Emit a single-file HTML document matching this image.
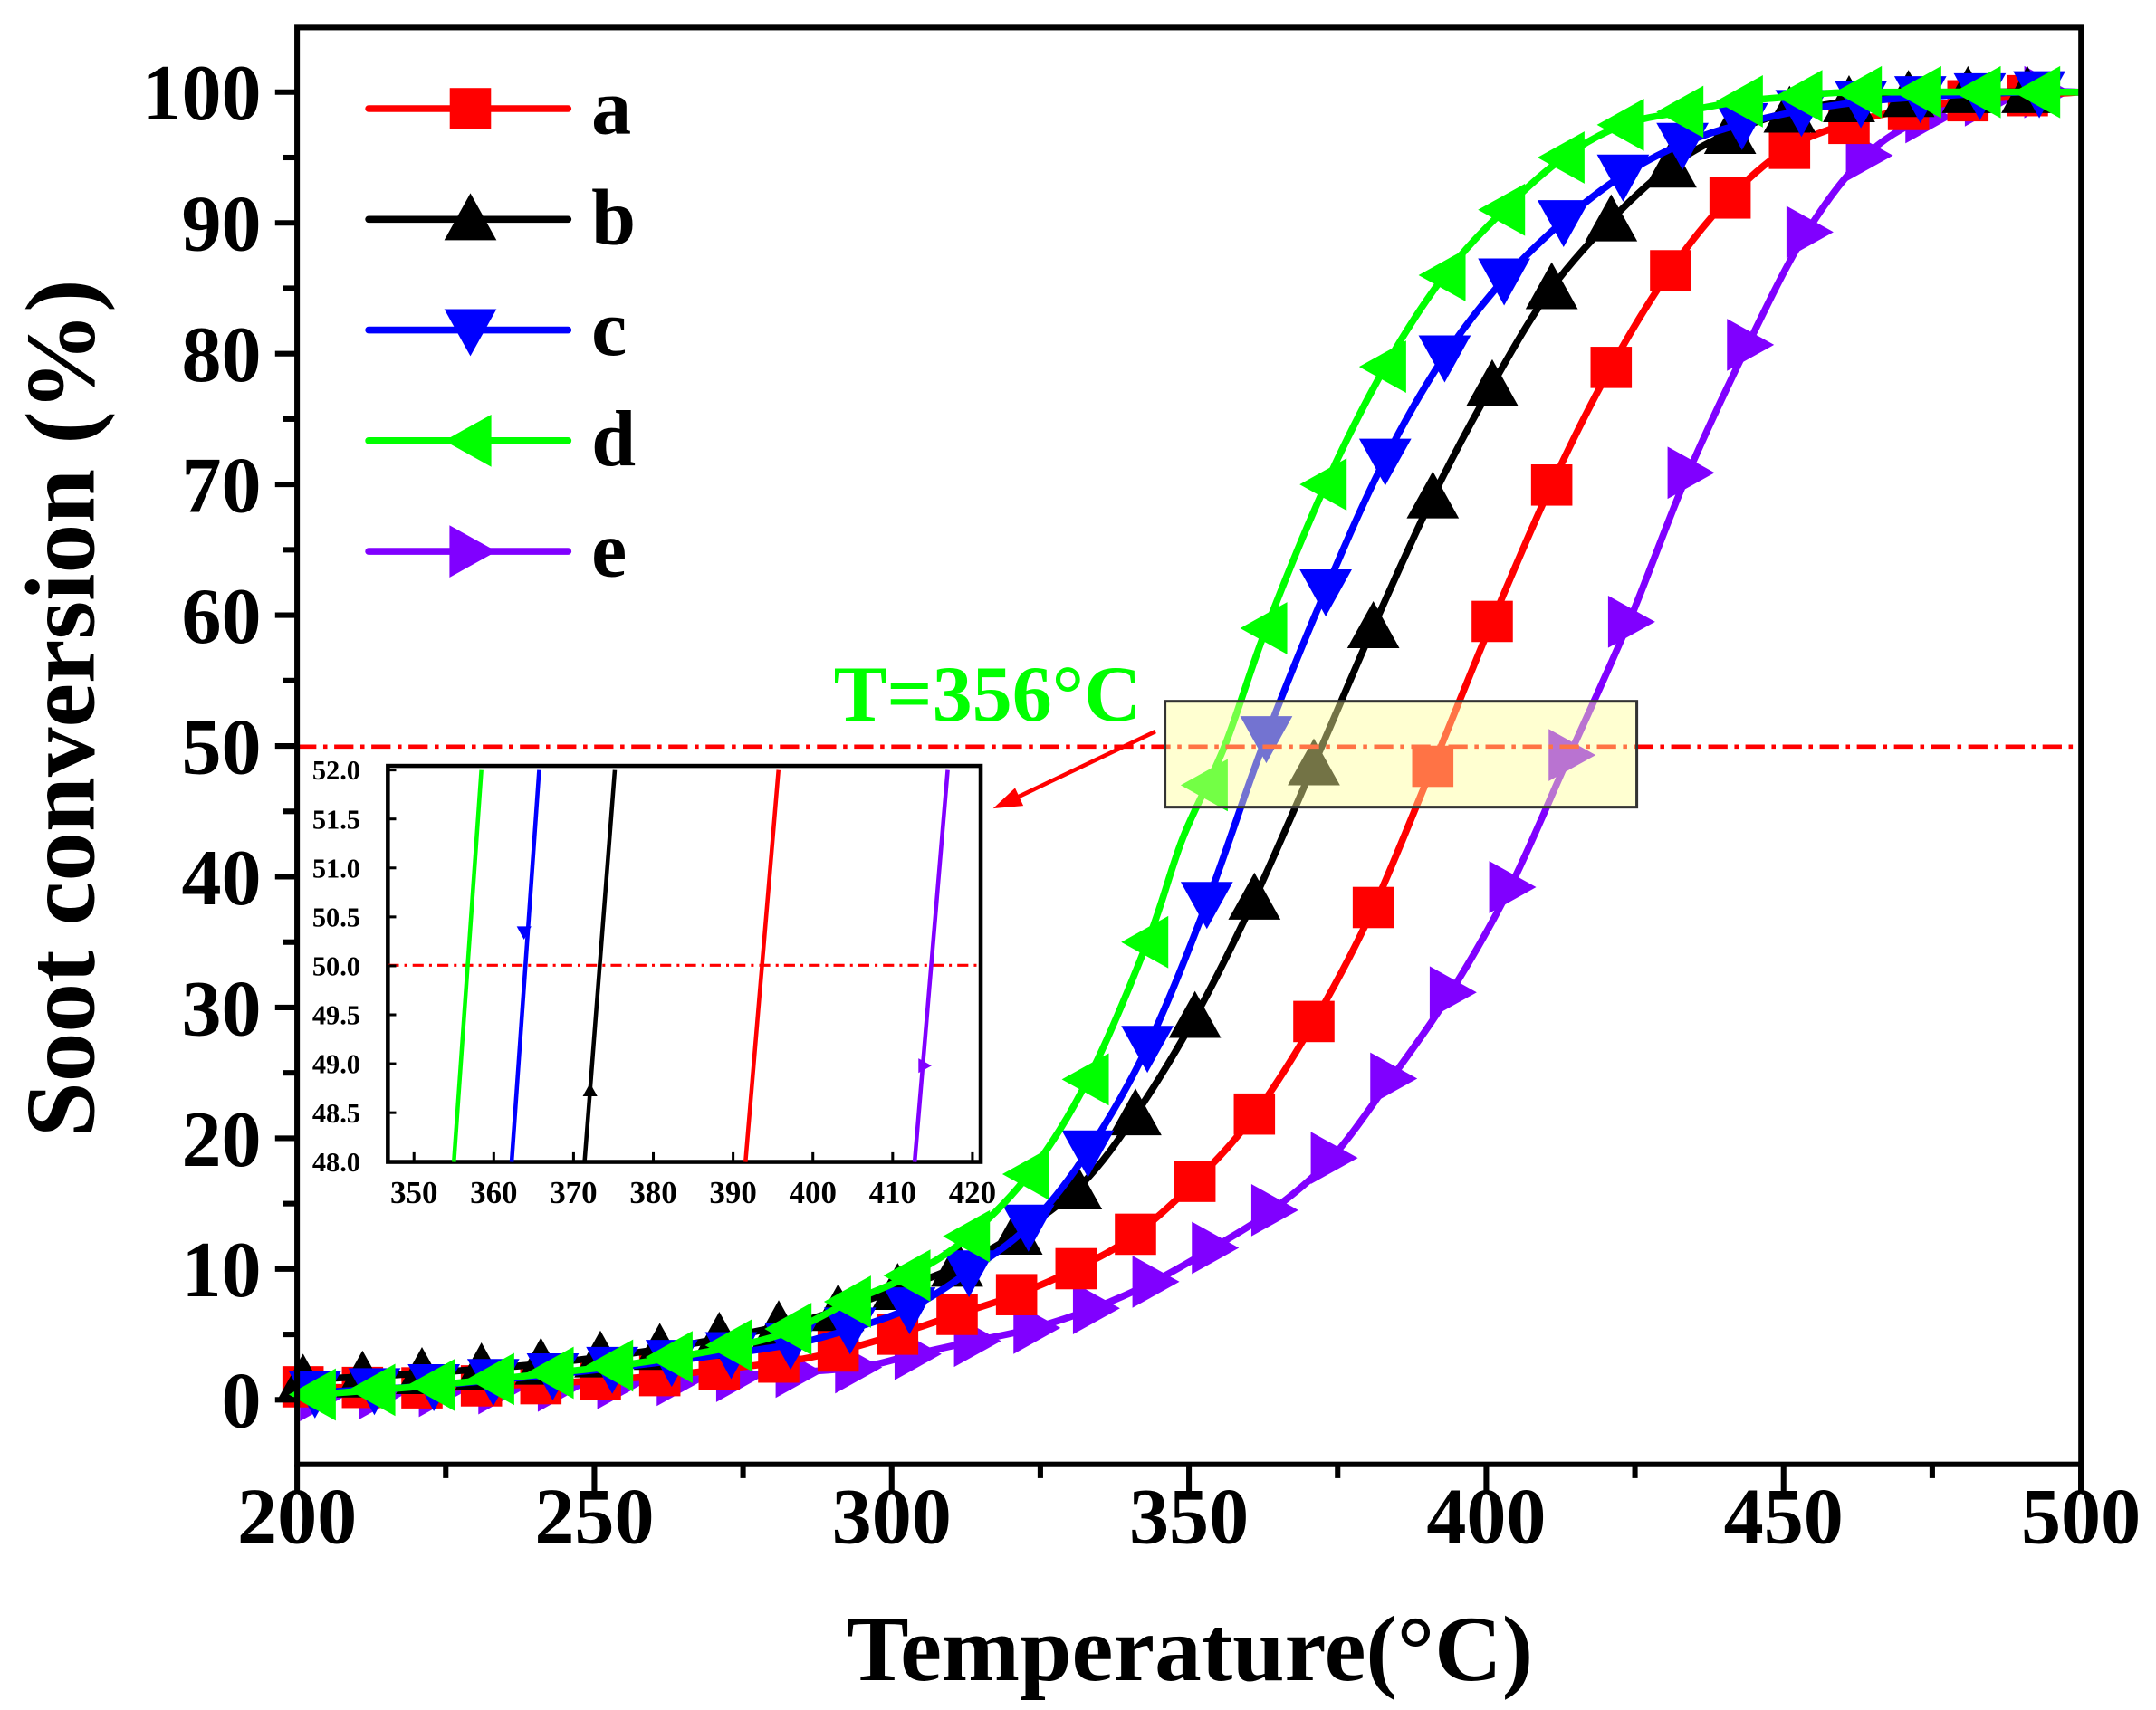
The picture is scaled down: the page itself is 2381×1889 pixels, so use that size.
<!DOCTYPE html>
<html><head><meta charset="utf-8"><style>html,body{margin:0;padding:0;background:#fff}svg{display:block}</style></head>
<body>
<svg id="s" width="2381" height="1889" viewBox="0 0 1567.5 1243.6" preserveAspectRatio="none" xmlns="http://www.w3.org/2000/svg" font-family="Liberation Serif, serif">
<rect x="0" y="0" width="1567.5" height="1243.6" fill="#fff"/>
<g id="plot"></g>
<g id="inset"></g>
<rect x="216" y="20" width="1297" height="1045" fill="none" stroke="#000" stroke-width="4"/>
<g id="ticks" stroke="#000" stroke-width="4"></g>
<g id="labels" font-weight="bold" font-size="58" fill="#000"></g>
<text x="865" y="1222" text-anchor="middle" font-weight="bold" font-size="68">Temperature(°C)</text>
<text transform="translate(68,515) rotate(-90)" text-anchor="middle" font-weight="bold" font-size="72">Soot conversion (%)</text>
<text x="718" y="524" text-anchor="middle" font-weight="bold" font-size="58" fill="#00ff00">T=356°C</text>
<g id="legend"></g>
</svg>
<script>
const NS="http://www.w3.org/2000/svg";
function el(p,t,a,txt){const e=document.createElementNS(NS,t);for(const k in a)e.setAttribute(k,a[k]);if(txt!==undefined)e.textContent=txt;p.appendChild(e);return e;}
const X=t=>216+(t-200)*4.323, Y=v=>1018-v*9.51;
const plot=document.getElementById('plot'),ticks=document.getElementById('ticks'),labels=document.getElementById('labels');
for(let v=0;v<=100;v+=5){const y=Y(v);el(ticks,'line',{x1:216,x2:v%10?206:200,y1:y,y2:y});if(v%10==0)el(labels,'text',{x:190,y:y+20,'text-anchor':'end'},v);}
for(let t=200;t<=500;t+=25){const x=X(t);el(ticks,'line',{x1:x,x2:x,y1:1065,y2:t%50?1075:1085});if(t%50==0)el(labels,'text',{x:x,y:1122,'text-anchor':'middle'},t);}
const S={
a:{c:'#ff0000',m:'sq',p:[[200,1],[220,0.9],[240,1.2],[260,1.8],[280,2.8],[290,3.6],[300.9,5],[310.8,6.5],[320.8,8],[330.9,10],[340.6,12.5],[350.6,16.5],[360.5,21.5],[370.5,28.5],[380.4,37],[390.6,48],[400.5,59],[410.5,69.5],[420.4,78.5],[430.4,86],[440,91.5],[450,95.5],[460,97.5],[470,98.6],[480,99.3],[490,99.7],[500,100]]},
b:{c:'#000000',m:'up',p:[[200,1.5],[220,2],[240,2.7],[260,3.8],[280,5.5],[290,6.7],[300,8.3],[310,10],[321,12.7],[332,16.5],[341.3,22],[351.3,29.5],[361.2,38.5],[371.4,49],[381.4,59.5],[391.5,69.5],[401.5,78],[411,85],[421.6,90.5],[431.5,94.5],[441.5,97],[451,98.5],[461,99.3],[471,99.7],[481,100],[500,100]]},
c:{c:'#0000ff',m:'dn',p:[[200,0.5],[220,1],[240,1.8],[260,2.8],[280,4],[290,5],[303,7],[313.6,10],[323.5,13.5],[333,19],[343,27],[353,38],[362.4,50],[372.6,61.5],[382.5,71.5],[392.5,79.5],[402.6,85.5],[412.6,90],[422.5,93.5],[432.7,96],[442.4,97.5],[452,98.5],[462,99.2],[472,99.6],[490,100],[500,100]]},
d:{c:'#00ff00',m:'lt',p:[[200,0.3],[220,1],[240,1.9],[260,3],[280,4.8],[293,7.5],[303,9.5],[313,12.5],[323.5,17.5],[333,24.5],[343,35],[349,43],[356,50],[363,59],[373,70],[383,79],[393,86],[403,91],[413,95],[423,97.5],[433,98.5],[443,99.3],[453,99.7],[463,100],[500,100]]},
e:{c:'#8000ff',m:'rt',p:[[200,0.3],[220,0.6],[240,1],[260,1.4],[280,2],[294.6,2.5],[304,3.5],[314,4.5],[324,5.5],[334,7],[343.9,9],[353.6,11.5],[364,14.5],[374,18.5],[383.9,24.5],[393.8,31],[403.8,39],[413.7,49],[424,59.5],[433.6,70.5],[443.8,80.5],[453.5,89],[463.5,95],[473.4,98],[483,99.3],[493,100],[500,100]]}
};
function interp(p,t){for(let i=0;i<p.length-1;i++){if(t>=p[i][0]&&t<=p[i+1][0]){const f=(t-p[i][0])/(p[i+1][0]-p[i][0]);return p[i][1]+f*(p[i+1][1]-p[i][1]);}}return p[p.length-1][1];}
function path(p){const q=p.map(a=>[X(a[0]),Y(a[1])]);let d='M'+q[0][0]+','+q[0][1];for(let i=0;i<q.length-1;i++){const p0=q[Math.max(0,i-1)],p1=q[i],p2=q[i+1],p3=q[Math.min(q.length-1,i+2)];d+=' C'+(p1[0]+(p2[0]-p0[0])/6)+','+(p1[1]+(p2[1]-p0[1])/6)+' '+(p2[0]-(p3[0]-p1[0])/6)+','+(p2[1]-(p3[1]-p1[1])/6)+' '+p2[0]+','+p2[1];}return d;}
function marker(g,m,x,y,c,s){s=s||1;let a;
 if(m=='sq')return el(g,'rect',{x:x-15*s,y:y-15*s,width:30*s,height:30*s,fill:c});
 const r=19*s;
 if(m=='up')a=[[x,y-r],[x+r,y+r*0.8],[x-r,y+r*0.8]];
 if(m=='dn')a=[[x,y+r],[x+r,y-r*0.8],[x-r,y-r*0.8]];
 if(m=='lt')a=[[x-r,y],[x+r*0.8,y-r],[x+r*0.8,y+r]];
 if(m=='rt')a=[[x+r,y],[x-r*0.8,y-r],[x-r*0.8,y+r]];
 return el(g,'polygon',{points:a.map(p=>p.join(',')).join(' '),fill:c});}
const off={a:1,b:1,c:3,d:3,e:4};
for(const k of ['e','a','b','c','d']){const s=S[k];el(plot,'path',{d:path(s.p),fill:'none',stroke:s.c,'stroke-width':5});
 for(let t=200+off[k];t<=500;t+=10){marker(plot,s.m,X(t),Y(interp(s.p,t)),s.c);}}
el(plot,'line',{x1:216,x2:1513,y1:543,y2:543,stroke:'#ff0000','stroke-width':3,'stroke-dasharray':'14,5,3,5'});
el(plot,'rect',{x:847,y:510,width:343,height:77,fill:'#ffff99','fill-opacity':0.45,stroke:'#333','stroke-width':2});
el(plot,'line',{x1:840,y1:532,x2:735,y2:582,stroke:'#ff0000','stroke-width':3});
el(plot,'polygon',{points:'722,588 738,573 744,586',fill:'#ff0000'});
const ins=document.getElementById('inset');
el(ins,'rect',{x:282,y:557,width:431,height:288,fill:'#fff',stroke:'#000','stroke-width':3});
el(ins,'line',{x1:282,x2:713,y1:702,y2:702,stroke:'#ff0000','stroke-width':2,'stroke-dasharray':'8,4,2,4'});
const L=[['#00ff00',330,350],['#0000ff',372,392],['#000',425,447],['#ff0000',542,566],['#8000ff',665,689]];
for(const l of L)el(ins,'line',{x1:l[1],y1:845,x2:l[2],y2:560,stroke:l[0],'stroke-width':3});
marker(ins,'dn',381,678,'#0000ff',0.28);marker(ins,'up',429,793,'#000',0.28);marker(ins,'rt',672,775,'#8000ff',0.28);
const iy=['52.0','51.5','51.0','50.5','50.0','49.5','49.0','48.5','48.0'];
iy.forEach((s,i)=>{const y=560+i*35.6;el(ins,'line',{x1:282,x2:288,y1:y,y2:y,stroke:'#000','stroke-width':2});el(ins,'text',{x:262,y:y+7,'text-anchor':'end','font-size':20,'font-weight':'bold'},s);});
for(let t=350;t<=420;t+=10){const x=301+(t-350)*5.8;el(ins,'line',{x1:x,x2:x,y1:845,y2:838,stroke:'#000','stroke-width':2});el(ins,'text',{x:x,y:875,'text-anchor':'middle','font-size':23,'font-weight':'bold'},t);}
const lg=document.getElementById('legend');
['a','b','c','d','e'].forEach((k,i)=>{const y=79+i*80.5,s=S[k];el(lg,'line',{x1:268,x2:413,y1:y,y2:y,stroke:s.c,'stroke-width':5,'stroke-linecap':'round'});marker(lg,s.m,342,y,s.c);el(lg,'text',{x:430,y:y+18,'font-size':58,'font-weight':'bold'},k);});
</script>
</body></html>
